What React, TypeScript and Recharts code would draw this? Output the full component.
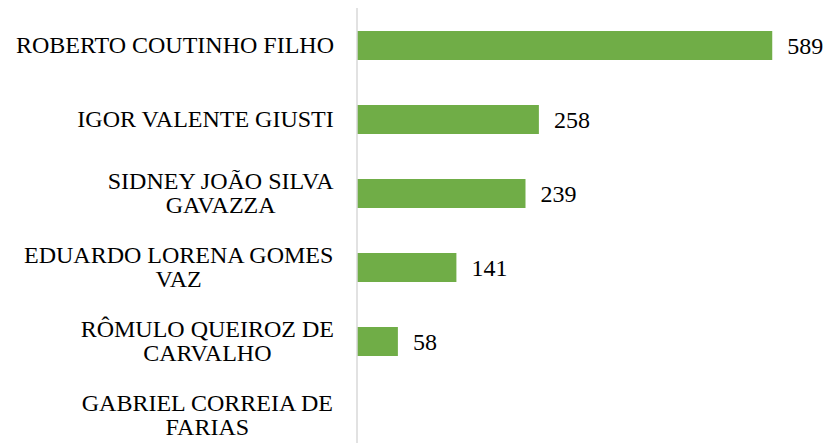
import { BarChart, Bar, XAxis, YAxis, LabelList } from 'recharts'

const names = [
  'ROBERTO COUTINHO FILHO',
  'IGOR VALENTE GIUSTI',
  'SIDNEY JOÃO SILVA GAVAZZA',
  'EDUARDO LORENA GOMES VAZ',
  'RÔMULO QUEIROZ DE CARVALHO',
  'GABRIEL CORREIA DE FARIAS',
]
const counts: (number | null)[] = [589, 258, 239, 141, 58, null]

const data = names.map((name, i) => ({ name, value: counts[i] }))

const FONT = 'Liberation Serif'
const FONT_SIZE = 24
const LINE_H = 23.5
const WRAP_W = 325

let ctx: CanvasRenderingContext2D | null = null
function measure(s: string) {
  if (!ctx) ctx = document.createElement('canvas').getContext('2d')
  if (!ctx) return s.length * 12
  ctx.font = `${FONT_SIZE}px "${FONT}"`
  return ctx.measureText(s).width
}

// break a name into lines no wider than WRAP_W
function wrap(text: string) {
  const words = text.split(' ')
  const lines: string[] = []
  let cur = ''
  for (const w of words) {
    const next = cur ? cur + ' ' + w : w
    if (cur && measure(next) > WRAP_W) {
      lines.push(cur)
      cur = w
    } else cur = next
  }
  if (cur) lines.push(cur)
  return lines
}

function NameTick(props: any) {
  const { x, y, payload } = props
  const lines = wrap(String(payload.value))
  const blockW = Math.max(...lines.map(measure))
  const cx = x - blockW / 2
  const y0 = y - ((lines.length - 1) * LINE_H) / 2
  return (
    <g>
      {lines.map((l, i) => (
        <text
          key={i}
          x={cx}
          y={y0 + i * LINE_H}
          textAnchor="middle"
          dominantBaseline="central"
          fontFamily={FONT}
          fontSize={FONT_SIZE}
          fill="#000"
        >
          {l}
        </text>
      ))}
    </g>
  )
}

export default function App() {
  return (
    <div style={{ position: 'absolute', left: 0, top: 0, width: 827, height: 443, overflow: 'hidden', background: '#fff' }}>
      <BarChart
        width={827}
        height={460}
        data={data}
        layout="vertical"
        margin={{ top: 8, right: 47, bottom: 8, left: 0 }}
      >
        <XAxis type="number" domain={[0, 600]} hide />
        <YAxis
          type="category"
          dataKey="name"
          width={357}
          axisLine={{ stroke: '#d9d9d9', strokeWidth: 1.5 }}
          tickLine={false}
          tickSize={0}
          tickMargin={23}
          tick={<NameTick />}
          interval={0}
        />
        <Bar dataKey="value" fill="#70ad47" barSize={29} isAnimationActive={false}>
          <LabelList
            dataKey="value"
            position="right"
            offset={15}
            formatter={(v: any) => (v == null ? '' : v)}
            fontFamily={FONT}
            fontSize={FONT_SIZE}
            fill="#000"
          />
        </Bar>
      </BarChart>
    </div>
  )
}
